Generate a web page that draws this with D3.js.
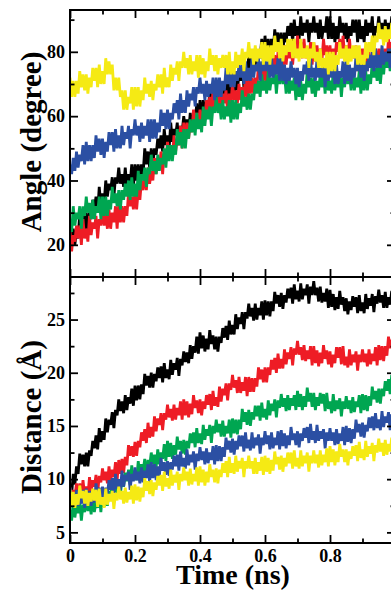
<!DOCTYPE html>
<html>
<head>
<meta charset="utf-8">
<script src="https://cdn.jsdelivr.net/npm/d3@7"></script>
<style>
  html, body { margin: 0; padding: 0; background: #ffffff; }
  svg { display: block; }
  .tick text { font-family: "Liberation Serif", "Times New Roman", serif; font-weight: bold; font-size: 18px; fill: #000; }
  .axis-title { font-family: "Liberation Serif", "Times New Roman", serif; font-weight: bold; fill: #000; }
</style>
</head>
<body>
<svg id="chart" width="391" height="590"></svg>
<script>
// Sampling interval of every trajectory (ns)
const timeStep = 0.005;

// Angle (degree) trajectories, one sample per 5 ps
const angleBlack = [25,20,25,20,25,22,30,25,29,24, 30,25,30,28,34,31,35,30,38,32, 36,33,40,35,39,37,41,35,41,39, 44,39,42,38,44,38,42,39,45,38, 45,40,45,40,45,42,50,45,49,44, 50,45,50,48,53,50,54,49,56,51, 54,50,58,52,56,54,58,51,57,55, 60,56,59,55,61,56,61,58,64,57, 65,59,65,59,65,61,68,64,67,63, 68,62,67,65,70,66,70,64,72,66, 69,66,73,68,73,71,75,69,76,73, 79,75,78,74,81,76,80,78,84,77, 85,79,84,79,84,80,87,82,86,81, 86,80,86,83,88,85,89,83,90,85, 88,84,91,85,89,86,90,83,89,86, 91,86,89,84,90,84,88,86,91,84, 91,84,89,83,88,84,91,86,89,84, 89,83,88,85,90,86,90,83,90,84, 88,83,90,85,89,86,91,83,88,86, 91,86,89,84,90,85,89,86,91,84, 89];
const angleRed = [24,18,23,21,26,22,26,20,28,22, 25,21,29,23,27,25,29,22,28,26, 31,26,30,25,31,25,30,27,32,25, 33,27,32,27,32,29,36,32,35,31, 36,31,37,34,40,37,42,37,44,39, 43,40,47,42,46,44,49,42,49,46, 52,48,51,47,54,49,53,51,57,50, 58,53,58,53,58,55,62,58,61,57, 62,57,62,60,65,62,66,61,68,63, 66,62,69,63,67,64,68,61,67,64, 70,65,68,64,70,65,69,66,72,65, 73,67,72,67,72,69,76,72,75,71, 76,70,76,73,78,75,79,73,80,75, 78,74,82,76,81,78,82,76,82,80, 85,80,83,78,84,78,81,78,83,76, 83,77,82,76,81,77,84,79,82,77, 82,76,81,78,83,80,84,78,85,79, 82,78,84,78,81,78,82,74,80,76, 81,76,79,74,80,75,79,76,81,74, 81,75,81,75,81,77,84,80,83,79, 83];
const angleGreen = [28,24,32,26,30,28,32,25,32,29, 35,30,33,28,34,28,32,30,35,28, 35,29,35,29,34,31,38,33,36,32, 37,31,37,34,39,35,40,34,41,35, 39,35,43,37,42,40,44,38,44,42, 48,43,46,42,48,43,47,45,50,44, 51,46,51,46,51,48,56,51,55,50, 56,50,56,53,59,55,59,54,61,56, 59,55,63,57,62,59,63,57,63,61, 66,61,64,59,65,59,63,60,65,58, 65,59,65,59,64,61,68,63,66,62, 67,62,67,65,70,67,71,66,73,68, 71,67,74,68,72,70,74,67,73,70, 75,70,73,67,73,67,71,68,72,65, 72,66,71,65,70,67,74,69,72,67, 72,66,71,68,73,69,73,67,74,68, 71,67,74,68,72,69,73,66,72,69, 75,70,73,68,74,68,72,69,74,67, 74,68,74,68,73,70,77,72,75,71, 76,70,76,73,79,75,79,74,81,76, 79];
const angleBlue = [45,42,47,43,49,44,48,46,51,45, 52,46,51,46,51,47,54,49,53,48, 53,47,52,49,55,51,55,49,56,50, 54,50,57,51,55,53,57,50,56,54, 59,54,57,52,58,53,57,54,59,52, 59,53,59,53,58,55,62,57,61,56, 62,56,61,59,64,61,65,59,67,61, 65,61,68,63,67,65,69,63,69,67, 72,67,70,65,71,66,70,67,72,65, 72,66,72,66,71,68,75,70,74,69, 75,69,74,71,76,72,76,70,77,71, 75,71,78,72,76,74,78,71,77,74, 79,74,77,72,78,72,76,73,78,71, 78,71,76,70,75,71,77,72,75,70, 75,69,74,71,76,73,77,71,78,72, 75,71,78,72,75,72,76,69,75,71, 77,72,75,70,76,70,74,72,77,70, 77,71,76,70,75,72,79,74,77,72, 77,71,77,74,79,75,80,74,81,75, 79,75,82,76,80,77,81,75,81,78, 80];
const angleYellow = [72,66,71,66,71,67,74,69,73,68, 73,67,72,69,75,71,75,69,76,70, 74,70,78,73,77,73,76,68,72,68, 72,66,68,62,68,62,66,64,69,62, 69,63,69,63,68,65,72,67,70,66, 71,65,70,68,73,69,73,67,75,69, 72,69,76,71,75,73,77,71,77,75, 80,75,78,73,79,73,77,74,79,72, 79,73,78,72,77,74,81,76,79,74, 79,73,78,75,79,75,79,73,80,73, 77,73,80,75,79,76,81,74,80,78, 83,78,81,76,82,77,81,78,83,76, 83,77,82,76,82,78,85,80,83,78, 84,77,82,79,84,80,84,78,84,78, 81,77,84,78,81,78,82,75,81,78, 83,77,80,75,81,75,78,75,80,73, 80,74,80,74,79,76,83,78,81,77, 82,76,81,77,82,78,82,76,82,76, 79,76,83,78,83,80,85,79,85,83, 89,84,87,82,88,83,87,84,89,82, 88];

// Distance (Å) trajectories, one sample per 5 ps
const distBlack = [9.3,8.6,10.5,9.5,11.2,10.5,12.4,11.4,12.3,11.2, 12.5,11.2,12.7,12.2,13.6,12.9,14.1,12.8,14.8,13.5, 14.5,13.7,15.7,14.4,15.6,15.1,16.3,14.8,16.5,16.0, 17.5,16.4,17.3,16.2,17.9,16.5,17.7,17.1,18.5,16.9, 18.8,17.4,18.8,17.5,18.9,18.0,19.9,18.8,19.7,18.6, 20.0,18.6,19.9,19.2,20.5,19.5,20.6,19.1,20.9,19.5, 20.3,19.4,21.2,19.8,20.9,20.3,21.4,19.7,21.3,20.7, 22.0,21.0,21.9,20.9,22.6,21.3,22.5,21.9,23.4,21.8, 23.8,22.3,23.5,22.0,23.2,22.2,24.0,22.7,23.5,22.2, 23.4,22.0,23.4,22.8,24.2,23.3,24.4,23.1,24.9,23.6, 24.5,23.6,25.5,24.1,25.2,24.6,25.7,24.1,25.7,25.1, 26.5,25.3,26.1,24.9,26.5,25.0,26.1,25.4,26.7,25.0, 26.8,25.4,26.7,25.3,26.7,25.8,27.6,26.5,27.3,26.2, 27.5,26.0,27.3,26.6,27.9,27.0,28.0,26.5,28.3,26.9, 27.7,26.7,28.4,26.9,27.9,27.3,28.3,26.5,28.1,27.3, 28.6,27.3,28.0,26.7,28.1,26.6,27.5,26.7,27.9,26.1, 27.8,26.2,27.4,25.9,27.1,26.0,27.7,26.4,27.1,25.8, 27.0,25.5,26.7,25.9,27.2,26.2,27.1,25.6,27.3,25.8, 26.6,25.6,27.4,26.0,27.0,26.3,27.4,25.7,27.2,26.5, 27.8,26.6,27.3,26.1,27.6,26.1,27.1,26.4,27.7,26.0, 27.3];
const distRed = [9.2,7.7,9.0,8.3,9.6,8.6,9.6,8.2,9.9,8.5, 9.3,8.4,10.2,8.8,9.9,9.3,10.4,8.7,10.3,9.7, 11.0,9.9,10.7,9.6,11.2,9.8,10.9,10.2,11.6,9.9, 11.8,10.5,11.9,10.6,12.1,11.3,13.2,12.2,13.1,12.1, 13.5,12.2,13.6,13.0,14.4,13.6,14.7,13.4,15.3,13.9, 14.9,14.0,15.9,14.5,15.7,15.1,16.2,14.6,16.2,15.6, 17.0,15.8,16.6,15.5,17.0,15.6,16.7,16.0,17.3,15.6, 17.5,16.0,17.3,15.8,17.1,16.1,17.9,16.7,17.4,16.2, 17.5,16.0,17.3,16.6,17.9,17.0,18.0,16.5,18.3,16.9, 17.7,16.8,18.7,17.3,18.5,17.9,19.0,17.4,19.0,18.4, 19.8,18.6,19.3,18.1,19.6,18.1,19.1,18.3,19.6,17.8, 19.6,18.2,19.5,18.2,19.5,18.7,20.5,19.4,20.3,19.1, 20.5,19.1,20.5,19.8,21.2,20.3,21.4,20.0,21.8,20.4, 21.3,20.4,22.2,20.8,21.9,21.3,22.4,20.7,22.3,21.7, 23.0,21.7,22.4,21.2,22.6,21.1,22.1,21.3,22.5,20.7, 22.5,20.9,22.1,20.6,21.9,20.9,22.6,21.3,22.1,20.8, 22.0,20.5,21.7,20.9,22.4,21.4,22.4,20.8,22.5,20.7, 21.5,20.5,22.2,20.7,21.7,21.0,22.0,20.2,21.7,21.0, 22.2,21.0,21.8,20.6,22.2,20.8,21.8,21.1,22.4,20.7, 22.6,21.2,22.5,21.1,22.5,21.6,23.4,22.3,23.1,22.0, 23.2];
const distGreen = [7.1,6.1,7.9,6.4,7.5,6.8,7.8,6.1,7.6,6.9, 8.2,7.0,7.9,6.7,8.3,6.9,7.9,7.3,8.6,6.9, 8.8,7.4,8.8,7.5,8.9,8.0,9.9,8.8,9.7,8.6, 10.0,8.6,9.9,9.3,10.6,9.8,10.9,9.5,11.3,9.9, 10.8,9.9,11.7,10.3,11.4,10.8,11.9,10.2,11.8,11.2, 12.5,11.4,12.3,11.1,12.8,11.4,12.5,11.9,13.3,11.7, 13.6,12.1,13.4,11.9,13.2,12.3,14.0,12.8,13.6,12.4, 13.7,12.3,13.6,12.9,14.3,13.4,14.4,13.0,14.8,13.4, 14.3,13.3,15.1,13.7,14.7,14.1,15.1,13.4,15.0,14.3, 15.6,14.4,15.2,14.0,15.5,14.0,15.0,14.3,15.6,13.9, 15.7,14.3,15.6,14.2,15.6,14.7,16.6,15.4,16.3,15.1, 16.5,15.0,16.3,15.6,16.9,15.9,16.9,15.5,17.2,15.8, 16.6,15.6,17.4,16.0,17.1,16.4,17.5,15.8,17.4,16.7, 18.0,16.8,17.6,16.4,17.9,16.5,17.6,16.9,17.9,16.5, 18.3,16.8,18.0,16.5,17.8,16.8,18.6,17.3,18.1,16.8, 18.1,16.5,17.7,16.9,18.1,17.1,18.0,16.4,18.1,16.6, 17.3,16.2,18.0,16.4,17.4,16.6,17.6,15.9,17.3,16.6, 17.8,16.6,17.4,16.2,17.7,16.3,17.3,16.8,17.9,16.2, 18.0,16.5,17.9,16.4,17.8,16.9,18.7,17.5,18.3,17.2, 18.5,17.1,18.5,17.8,19.2,18.3,19.4,18.0,19.8,18.4, 19.4];
const distBlue = [9.2,8.0,8.7,7.5,9.0,7.5,8.5,7.7,9.0,7.3, 9.1,7.6,8.9,7.5,8.8,7.8,9.6,8.4,9.2,8.0, 9.3,7.9,9.2,8.6,9.9,9.0,10.1,8.7,10.5,9.1, 10.0,9.0,10.8,9.3,10.4,9.9,10.7,9.0,10.5,9.8, 11.1,9.9,10.7,9.6,11.1,9.7,10.8,10.1,11.4,9.7, 11.6,10.1,11.4,9.9,11.2,10.3,12.0,10.8,11.6,10.4, 11.7,10.3,11.6,10.9,12.2,11.2,12.3,10.8,12.6,11.2, 12.0,11.0,12.8,11.3,12.3,11.6,12.6,10.9,12.4,11.7, 13.0,11.8,12.6,11.4,12.9,11.5,12.5,11.8,13.1,11.4, 13.2,11.7,13.1,11.7,13.0,12.1,13.9,12.8,13.6,12.5, 13.8,12.3,13.6,12.8,14.1,13.1,14.1,12.6,14.4,12.9, 13.7,12.7,14.4,12.9,13.9,13.2,14.2,12.4,13.9,13.2, 14.5,13.3,14.1,12.8,14.4,12.9,13.9,13.2,14.5,12.8, 14.6,13.1,14.3,12.9,14.1,13.2,14.9,13.7,14.3,13.2, 14.5,13.0,14.3,13.6,14.8,13.9,14.9,13.4,15.2,13.7, 14.5,13.4,15.1,13.6,14.5,13.8,14.7,12.9,14.4,13.6, 14.8,13.6,14.4,13.2,14.7,13.3,14.3,13.6,14.9,13.2, 15.0,13.5,14.8,13.4,14.7,13.8,15.6,14.4,15.2,14.0, 15.3,13.9,15.1,14.5,15.8,14.8,15.9,14.6,16.2,14.8, 15.6,14.6,16.4,14.9,15.9,15.3,16.3,14.6,16.1,15.4, 16.0];
const distYellow = [9.0,7.5,8.8,7.3,8.6,7.6,9.4,8.2,8.9,7.7, 9.0,7.5,8.7,7.9,9.1,8.0,9.0,7.4,9.1,7.6, 8.3,7.3,9.1,7.6,8.6,7.9,8.9,7.2,8.7,8.0, 9.3,8.1,8.9,7.7,9.2,7.8,8.8,8.1,9.4,7.7, 9.5,8.0,9.3,7.9,9.2,8.3,10.1,8.9,9.8,8.6, 9.9,8.4,9.7,9.0,10.3,9.4,10.4,8.9,10.7,9.3, 10.1,9.1,10.9,9.4,10.4,9.7,10.7,9.0,10.5,9.8, 11.1,9.9,10.7,9.4,11.0,9.5,10.5,9.8,11.1,9.4, 11.2,9.7,10.9,9.4,10.7,9.7,11.4,10.2,10.9,9.7, 11.0,9.6,10.9,10.2,11.5,10.6,11.7,10.2,12.1,10.6, 11.5,10.5,12.2,10.7,11.7,11.0,12.0,10.2,11.7,11.0, 12.2,11.0,11.7,10.5,12.0,10.5,11.6,10.8,12.1,10.4, 12.2,10.7,12.0,10.5,11.8,10.8,12.6,11.4,12.1,10.9, 12.2,10.7,12.0,11.2,12.5,11.5,12.5,11.0,12.7,11.2, 12.0,11.0,12.7,11.2,12.2,11.5,12.5,10.7,12.2,11.5, 12.7,11.5,12.3,11.1,12.7,11.3,12.3,11.6,12.9,11.2, 13.1,11.6,12.8,11.3,12.6,11.6,13.3,12.1,12.8,11.6, 12.8,11.3,12.6,11.9,13.1,12.2,13.2,11.7,13.5,12.0, 12.8,11.8,13.6,12.1,13.1,12.4,13.4,11.7,13.2,12.5, 13.8,12.6,13.4,12.2,13.7,12.3,13.3,12.6,13.9,12.4, 13.5];

// Series colours, in drawing order
const seriesColors = ["#000000", "#ee1c25", "#00a651", "#2b4fa3", "#f5ea14"];

// Tick values and labels
const timeTicks = [0, 0.2, 0.4, 0.6, 0.8, 1.0];
const timeTickLabels = ["0", "0.2", "0.4", "0.6", "0.8", ""];
const timeMinorTicks = [0.1, 0.3, 0.5, 0.7, 0.9];
const angleTicks = [20, 40, 60, 80];
const angleMinorTicks = [30, 50, 70, 90];
const distTicks = [5, 10, 15, 20, 25];
const distMinorTicks = [7.5, 12.5, 17.5, 22.5, 27.5];

const svg = d3.select("#chart");
const plotLeft = 70, plotRight = 395;
const x = d3.scaleLinear().domain([0, 1]).range([plotLeft, plotRight]);

const panels = [
  { id: "angle", top: 10, bottom: 277, domain: [10, 93],
    series: [angleBlack, angleRed, angleGreen, angleBlue, angleYellow],
    ticks: angleTicks, minor: angleMinorTicks, format: d => String(d),
    title: "Angle (degree)", titleY: 142, showTimeLabels: false },
  { id: "dist", top: 277, bottom: 543, domain: [4, 29],
    series: [distBlack, distRed, distGreen, distBlue, distYellow],
    ticks: distTicks, minor: distMinorTicks, format: d => String(d),
    title: "Distance (Å)", titleY: 417, showTimeLabels: true }
];

const TICK_MAJOR = 8, TICK_MINOR = 4.5, TICK_W = 1.8;

function styleAxis(g) {
  g.select(".domain").remove();
  g.selectAll(".tick line").attr("stroke", "#000").attr("stroke-width", TICK_W);
}

panels.forEach(p => {
  const y = d3.scaleLinear().domain(p.domain).range([p.bottom, p.top]);

  svg.append("clipPath").attr("id", "clip-" + p.id)
    .append("rect").attr("x", plotLeft).attr("y", p.top)
    .attr("width", plotRight - plotLeft).attr("height", p.bottom - p.top);

  const line = d3.line()
    .x((d, i) => x(i * timeStep))
    .y(d => y(d));

  // densely sampled traces: the stroke is wide enough to merge neighbouring samples
  const gLines = svg.append("g").attr("clip-path", `url(#clip-${p.id})`);
  p.series.forEach((values, k) => {
    gLines.append("path")
      .datum(values)
      .attr("d", line)
      .attr("fill", "none")
      .attr("stroke", seriesColors[k])
      .attr("stroke-width", 2.8)
      .attr("stroke-linejoin", "miter")
      .attr("stroke-miterlimit", 2);
  });

  // left axis: labelled major ticks and short minor ticks, pointing inward
  svg.append("g").attr("transform", `translate(${plotLeft},0)`)
    .call(d3.axisLeft(y).tickValues(p.ticks).tickFormat(p.format)
      .tickSizeInner(-TICK_MAJOR).tickSizeOuter(0).tickPadding(5))
    .call(styleAxis);
  svg.append("g").attr("transform", `translate(${plotLeft},0)`)
    .call(d3.axisLeft(y).tickValues(p.minor).tickFormat("")
      .tickSizeInner(-TICK_MINOR).tickSizeOuter(0))
    .call(styleAxis);

  // right axis: ticks only
  svg.append("g").attr("transform", `translate(${plotRight},0)`)
    .call(d3.axisRight(y).tickValues(p.ticks).tickFormat("")
      .tickSizeInner(-TICK_MAJOR).tickSizeOuter(0))
    .call(styleAxis);
  svg.append("g").attr("transform", `translate(${plotRight},0)`)
    .call(d3.axisRight(y).tickValues(p.minor).tickFormat("")
      .tickSizeInner(-TICK_MINOR).tickSizeOuter(0))
    .call(styleAxis);

  // top edge ticks
  svg.append("g").attr("transform", `translate(0,${p.top})`)
    .call(d3.axisTop(x).tickValues(timeTicks).tickFormat("")
      .tickSizeInner(-TICK_MAJOR).tickSizeOuter(0))
    .call(styleAxis);
  svg.append("g").attr("transform", `translate(0,${p.top})`)
    .call(d3.axisTop(x).tickValues(timeMinorTicks).tickFormat("")
      .tickSizeInner(-TICK_MINOR).tickSizeOuter(0))
    .call(styleAxis);

  // bottom edge ticks (labelled on the lower panel)
  svg.append("g").attr("transform", `translate(0,${p.bottom})`)
    .call(d3.axisBottom(x).tickValues(timeTicks)
      .tickFormat(p.showTimeLabels ? (d, i) => timeTickLabels[i] : "")
      .tickSizeInner(-TICK_MAJOR).tickSizeOuter(0).tickPadding(6))
    .call(styleAxis);
  svg.append("g").attr("transform", `translate(0,${p.bottom})`)
    .call(d3.axisBottom(x).tickValues(timeMinorTicks).tickFormat("")
      .tickSizeInner(-TICK_MINOR).tickSizeOuter(0))
    .call(styleAxis);

  // frame
  svg.append("rect")
    .attr("x", plotLeft).attr("y", p.top)
    .attr("width", plotRight - plotLeft).attr("height", p.bottom - p.top)
    .attr("fill", "none").attr("stroke", "#000").attr("stroke-width", 2);

  // y title
  svg.append("text").attr("class", "axis-title")
    .attr("transform", `translate(41,${p.titleY}) rotate(-90)`)
    .attr("text-anchor", "middle")
    .style("font-size", "29px")
    .text(p.title);
});

svg.append("text").attr("class", "axis-title")
  .attr("x", 233).attr("y", 584)
  .attr("text-anchor", "middle")
  .style("font-size", "28px")
  .text("Time (ns)");
</script>
</body>
</html>
